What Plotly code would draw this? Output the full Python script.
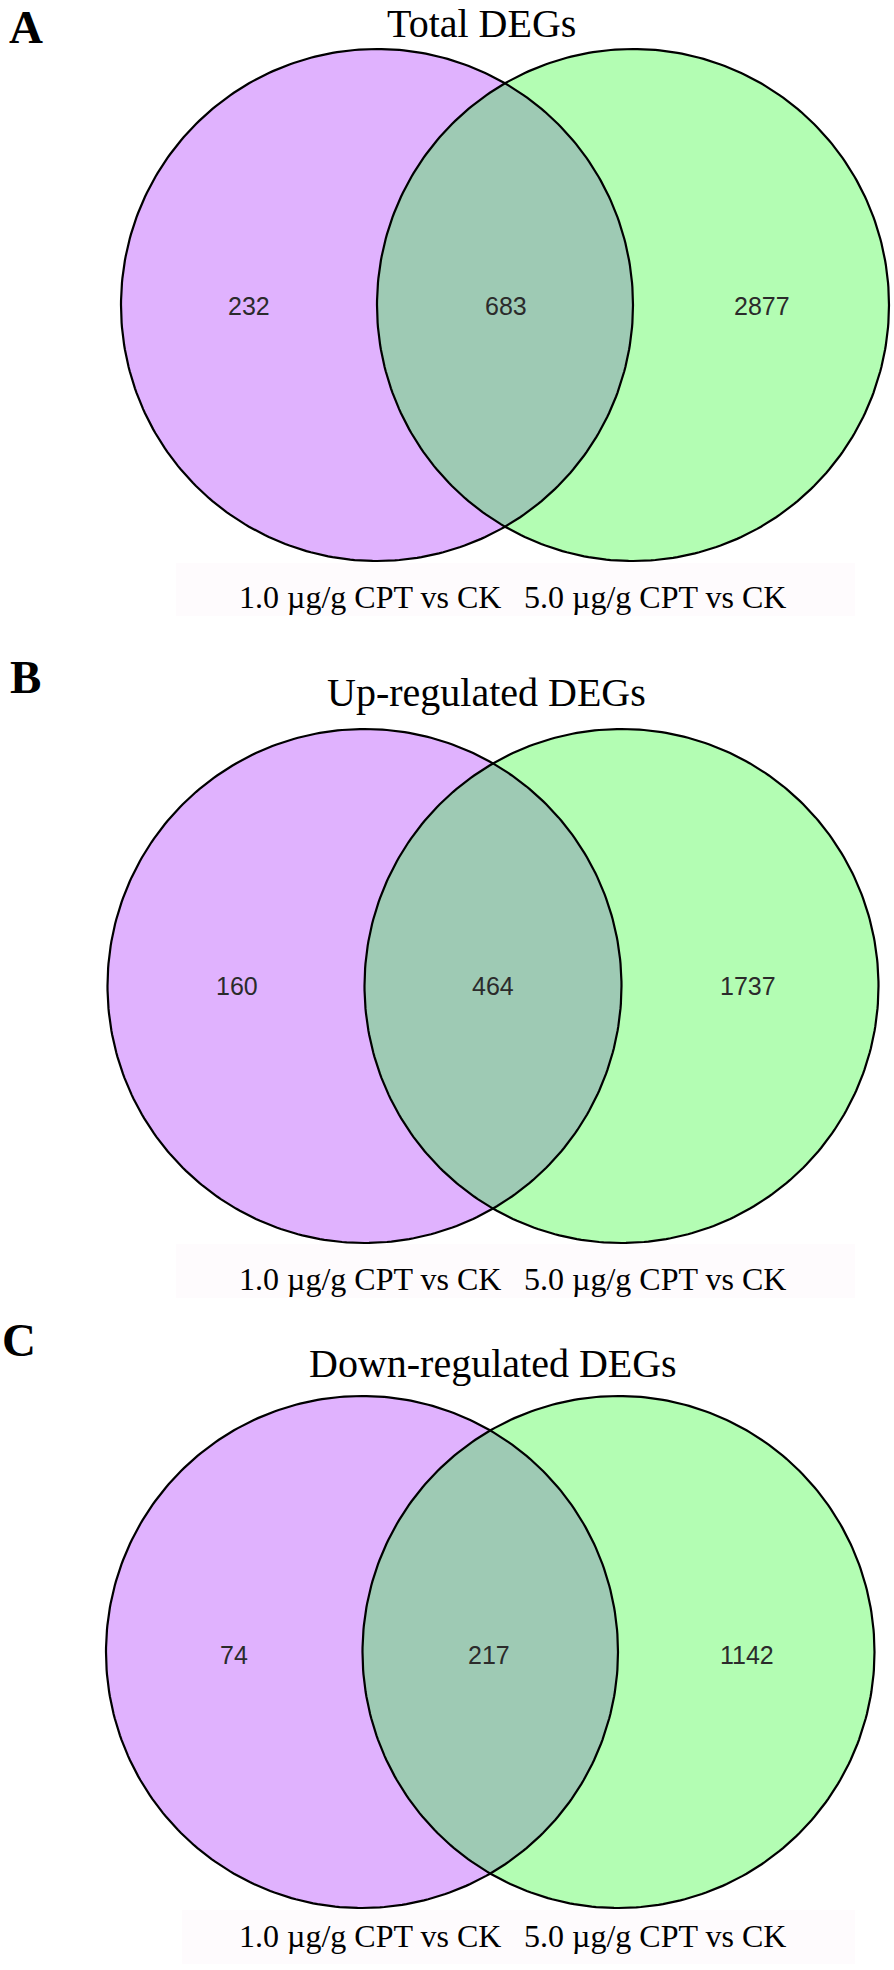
import numpy as np
import plotly.graph_objects as go

# ---- data ----
panel_letters = ["A", "B", "C"]
panel_titles = ["Total DEGs", "Up-regulated DEGs", "Down-regulated DEGs"]
set_names = ["1.0 µg/g CPT vs CK", "5.0 µg/g CPT vs CK"]
only_low = [232, 160, 74]        # unique to 1.0 µg/g CPT vs CK
shared = [683, 464, 217]         # intersection
only_high = [2877, 1737, 1142]   # unique to 5.0 µg/g CPT vs CK

# ---- layout geometry (pixel space) ----
W, H = 894, 1970
panels = [
    dict(cxL=377, cxR=633, cy=305, r=256, num_y=306, num_x=(249, 506, 762),
         letter=(26, 0, "top"), title=(481, 0, "top"), lab_y=597, box=(176, 563, 855, 616)),
    dict(cxL=364.5, cxR=621.5, cy=986, r=257, num_y=986, num_x=(237, 493, 748),
         letter=(25, 677, "middle"), title=(486, 692, "middle"), lab_y=1279,
         box=(176, 1244, 855, 1298)),
    dict(cxL=362, cxR=618.5, cy=1652, r=256, num_y=1655, num_x=(234, 489, 747),
         letter=(19, 1340, "middle"), title=(493, 1363, "middle"), lab_y=1936,
         box=(182, 1910, 855, 1964)),
]
label_x = [370, 655]

COL_L = "#e0b2fe"
COL_R = "#b3fdb3"
COL_LR = "#9ecab4"

SERIF = "Liberation Serif, Times New Roman, serif"
SANS = "Liberation Sans, Arial, sans-serif"

fig = go.Figure()
shapes = []
annotations = []


def circle_pts(cx, cy, r, t0=0, t1=2 * np.pi, n=361):
    t = np.linspace(t0, t1, n)
    return cx + r * np.cos(t), cy + r * np.sin(t)


for i, p in enumerate(panels):
    cxL, cxR, cy, r = p["cxL"], p["cxR"], p["cy"], p["r"]
    # faint label backdrop
    x0, y0, x1, y1 = p["box"]
    shapes.append(dict(type="rect", xref="x", yref="y", x0=x0, y0=y0, x1=x1, y1=y1,
                       fillcolor="#fefbfd", line=dict(width=0), layer="below"))
    # filled circles
    for cx, col in [(cxL, COL_L), (cxR, COL_R)]:
        xs, ys = circle_pts(cx, cy, r)
        fig.add_trace(go.Scatter(x=xs, y=ys, mode="lines", fill="toself", fillcolor=col,
                                 line=dict(width=0, color=col), hoverinfo="skip",
                                 showlegend=False))
    # lens (intersection)
    d = cxR - cxL
    h = np.sqrt(r ** 2 - (d / 2) ** 2)
    a = np.arctan2(h, d / 2)
    xa, ya = circle_pts(cxL, cy, r, -a, a, 120)
    xb, yb = circle_pts(cxR, cy, r, np.pi - a, np.pi + a, 120)
    fig.add_trace(go.Scatter(x=np.concatenate([xa, xb]), y=np.concatenate([ya, yb]),
                             mode="lines", fill="toself", fillcolor=COL_LR,
                             line=dict(width=0, color=COL_LR), hoverinfo="skip",
                             showlegend=False))
    # outlines
    for cx in (cxL, cxR):
        xs, ys = circle_pts(cx, cy, r)
        fig.add_trace(go.Scatter(x=xs, y=ys, mode="lines",
                                 line=dict(width=2.2, color="#000000"), hoverinfo="skip",
                                 showlegend=False))
    # counts
    vals = [only_low[i], shared[i], only_high[i]]
    for xv, v in zip(p["num_x"], vals):
        annotations.append(dict(x=xv, y=p["num_y"], xref="x", yref="y", text=str(v),
                                showarrow=False, xanchor="center", yanchor="middle",
                                font=dict(family=SANS, size=25, color="#2b2b2b")))
    # panel letter
    lx, ly, lanc = p["letter"]
    annotations.append(dict(x=lx, y=ly, xref="x", yref="y",
                            text="<b>" + panel_letters[i] + "</b>",
                            showarrow=False, xanchor="center", yanchor=lanc, borderpad=0,
                            font=dict(family=SERIF, size=47, color="#000000")))
    # title
    tx, ty, tanc = p["title"]
    annotations.append(dict(x=tx, y=ty, xref="x", yref="y", text=panel_titles[i],
                            showarrow=False, xanchor="center", yanchor=tanc, borderpad=0,
                            font=dict(family=SERIF, size=40, color="#000000")))
    # set labels
    for lxv, name in zip(label_x, set_names):
        annotations.append(dict(x=lxv, y=p["lab_y"], xref="x", yref="y", text=name,
                                showarrow=False, xanchor="center", yanchor="middle",
                                font=dict(family=SERIF, size=32, color="#000000")))

fig.update_layout(
    width=W, height=H, autosize=False,
    margin=dict(l=0, r=0, t=0, b=0, pad=0),
    paper_bgcolor="white", plot_bgcolor="white",
    xaxis=dict(range=[0, W], visible=False, fixedrange=True),
    yaxis=dict(range=[H, 0], visible=False, fixedrange=True),
    shapes=shapes, annotations=annotations, showlegend=False,
)

fig.write_html("out.html", post_script="document.body.style.margin='0';",
               config={"displayModeBar": False})
